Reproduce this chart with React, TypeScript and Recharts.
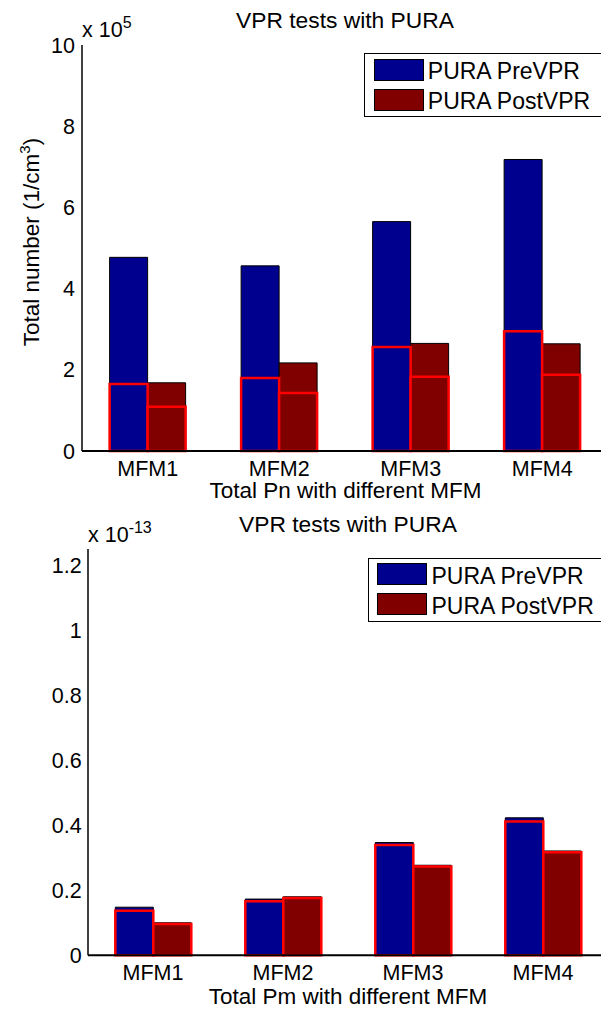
import React from 'react';
import { BarChart, Bar, XAxis, YAxis, Legend } from 'recharts';

const FONT = "'Liberation Sans', Arial, Helvetica, sans-serif";

const categories = ['MFM1', 'MFM2', 'MFM3', 'MFM4'];
const seriesNames = ['PURA PreVPR', 'PURA PostVPR'];

// Total number (x 1e5 1/cm^3)
const numberPreAll = [4.77, 4.56, 5.65, 7.18];
const numberPostAll = [1.68, 2.17, 2.65, 2.64];
const numberPreSel = [1.65, 1.80, 2.56, 2.95];
const numberPostSel = [1.09, 1.43, 1.83, 1.88];
const numberTicks = [0, 2, 4, 6, 8, 10];

// Total mass (x 1e-13 kg/cm^3)
const massPreAll = [0.148, 0.173, 0.347, 0.423];
const massPostAll = [0.100, 0.180, 0.277, 0.321];
const massPreSel = [0.137, 0.166, 0.339, 0.412];
const massPostSel = [0.096, 0.176, 0.273, 0.317];
const massTicks = [0, 0.2, 0.4, 0.6, 0.8, 1, 1.2];

const BLUE = '#00008F';
const DARKRED = '#800000';
const EDGE_RED = '#FF0000';

const build = (a: number[], b: number[], c: number[], d: number[]) =>
  categories.map((name, i) => ({ name, pre: a[i], post: b[i], preSel: c[i], postSel: d[i] }));

const numberData = build(numberPreAll, numberPostAll, numberPreSel, numberPostSel);
const massData = build(massPreAll, massPostAll, massPreSel, massPostSel);

const fmt = (v: number) => String(Math.round(v * 10) / 10);

function LegendBox(props: any) {
  const items = (props.payload || [])
    .filter((p: any) => p.type !== 'none' && seriesNames.indexOf(p.value) >= 0)
    .slice()
    .sort((a: any, b: any) => seriesNames.indexOf(a.value) - seriesNames.indexOf(b.value));
  return (
    <div
      style={{
        border: '1.5px solid #000',
        background: '#fff',
        width: 262,
        height: 64,
        boxSizing: 'border-box',
        padding: '0.8px 0 0 8.8px',
        fontFamily: FONT,
        color: '#000',
      }}
    >
      {items.map((p: any) => (
        <div key={p.value} style={{ display: 'flex', alignItems: 'center', height: 30 }}>
          <div style={{ width: 50, height: 22, background: p.color, border: '1px solid #000', boxSizing: 'border-box' }} />
          <span style={{ marginLeft: 4, fontSize: 23, lineHeight: '22px', position: 'relative', top: 1.5, whiteSpace: 'nowrap' }}>
            {p.value}
          </span>
        </div>
      ))}
    </div>
  );
}

type PanelProps = {
  data: any[];
  top: number;
  height: number;
  bottomPad: number;
  yWidth: number;
  marginTop: number;
  xHeight: number;
  domainMax: number;
  ticks: number[];
  tickMargin: number;
  legendLeft: number;
  legendTop: number;
  title: string;
  titleX: number;
  titleY: number;
  expBase: string;
  expSup: string;
  expY: number;
  ylabel: string;
  ylabelX: number;
  ylabelY: number;
  xlabel: string;
  xlabelX: number;
  xlabelY: number;
};

function Panel(p: PanelProps) {
  const tickStyle = { fill: '#000', fontSize: 21.5, fontFamily: FONT };
  return (
    <div style={{ position: 'absolute', left: 0, top: p.top }}>
      <BarChart
        width={620}
        height={p.height}
        data={p.data}
        margin={{ top: p.marginTop, right: 12, bottom: p.bottomPad, left: 0 }}
        barCategoryGap="21%"
        barGap={0}
      >
        <XAxis
          xAxisId="a"
          dataKey="name"
          height={p.xHeight}
          tickLine={false}
          tickSize={0}
          tickMargin={9.4}
          axisLine={{ stroke: '#000', strokeWidth: 2 }}
          tick={tickStyle}
          interval={0}
        />
        <XAxis xAxisId="b" dataKey="name" hide />
        <XAxis
          xAxisId="t"
          dataKey="name"
          orientation="top"
          mirror
          height={0}
          tickSize={4}
          tickFormatter={() => ''}
          axisLine={{ stroke: '#000', strokeWidth: 1.5 }}
          tickLine={{ stroke: '#000', strokeWidth: 1.2 }}
          interval={0}
        />
        <YAxis
          yAxisId="l"
          width={p.yWidth}
          domain={[0, p.domainMax]}
          ticks={p.ticks}
          tickFormatter={fmt}
          tickLine={false}
          tickSize={0}
          tickMargin={p.tickMargin}
          axisLine={{ stroke: '#000', strokeWidth: 1.5 }}
          tick={tickStyle}
          interval={0}
        />
        <YAxis
          yAxisId="m"
          mirror
          width={0}
          domain={[0, p.domainMax]}
          ticks={p.ticks}
          tickFormatter={() => ''}
          tickSize={5}
          axisLine={false}
          tickLine={{ stroke: '#000', strokeWidth: 1.2 }}
          interval={0}
        />
        <Legend
          layout="vertical"
          align="center"
          verticalAlign="middle"
          width={262}
          wrapperStyle={{ left: p.legendLeft, top: p.legendTop, width: 262 }}
          content={<LegendBox />}
        />
        <Bar xAxisId="a" yAxisId="l" dataKey="pre" name={seriesNames[0]} fill={BLUE} stroke="#000" strokeWidth={1} isAnimationActive={false} />
        <Bar xAxisId="a" yAxisId="l" dataKey="post" name={seriesNames[1]} fill={DARKRED} stroke="#000" strokeWidth={1} isAnimationActive={false} />
        <Bar xAxisId="b" yAxisId="l" dataKey="preSel" name={seriesNames[0] + ' sel'} legendType="none" fill={BLUE} stroke={EDGE_RED} strokeWidth={2.5} isAnimationActive={false} />
        <Bar xAxisId="b" yAxisId="l" dataKey="postSel" name={seriesNames[1] + ' sel'} legendType="none" fill={DARKRED} stroke={EDGE_RED} strokeWidth={2.5} isAnimationActive={false} />
        <g fontFamily={FONT} fill="#000">
          <text x={p.titleX} y={p.titleY} textAnchor="middle" fontSize={22.8}>{p.title}</text>
          <text x={p.yWidth} y={p.expY} fontSize={21.5}>
            {p.expBase}
            <tspan dy={-9} fontSize={16}>{p.expSup}</tspan>
          </text>
          <text x={p.xlabelX} y={p.xlabelY} textAnchor="middle" fontSize={22.5}>{p.xlabel}</text>
          <text transform={`translate(${p.ylabelX},${p.ylabelY}) rotate(-90)`} textAnchor="middle" fontSize={22.5}>
            {p.ylabel}
            <tspan dy={-9} fontSize={15}>3</tspan>
            <tspan dy={9}>)</tspan>
          </text>
        </g>
      </BarChart>
    </div>
  );
}

export default function App() {
  return (
    <div
      style={{
        position: 'absolute',
        left: 0,
        top: 0,
        width: 601,
        height: 1009,
        overflow: 'hidden',
        background: '#fff',
        fontFamily: FONT,
      }}
    >
      <Panel
        data={numberData}
        top={0}
        height={510}
        bottomPad={10}
        yWidth={82}
        marginTop={45}
        xHeight={49}
        domainMax={10}
        ticks={numberTicks}
        tickMargin={7}
        legendLeft={364}
        legendTop={53}
        title="VPR tests with PURA"
        titleX={345}
        titleY={28}
        expBase="x 10"
        expSup="5"
        expY={36.7}
        ylabel="Total number (1/cm"
        ylabelX={38.5}
        ylabelY={242}
        xlabel="Total Pn with different MFM"
        xlabelX={345.5}
        xlabelY={498}
      />
      <Panel
        data={massData}
        top={500}
        height={509}
        bottomPad={0}
        yWidth={88}
        marginTop={49}
        xHeight={53.7}
        domainMax={1.25}
        ticks={massTicks}
        tickMargin={6.3}
        legendLeft={367.7}
        legendTop={57.7}
        title="VPR tests with PURA"
        titleX={348}
        titleY={31.7}
        expBase="x 10"
        expSup="-13"
        expY={41.7}
        ylabel="Total mass (kg/cm"
        ylabelX={40}
        ylabelY={753}
        xlabel="Total Pm with different MFM"
        xlabelX={348}
        xlabelY={504}
      />
    </div>
  );
}
